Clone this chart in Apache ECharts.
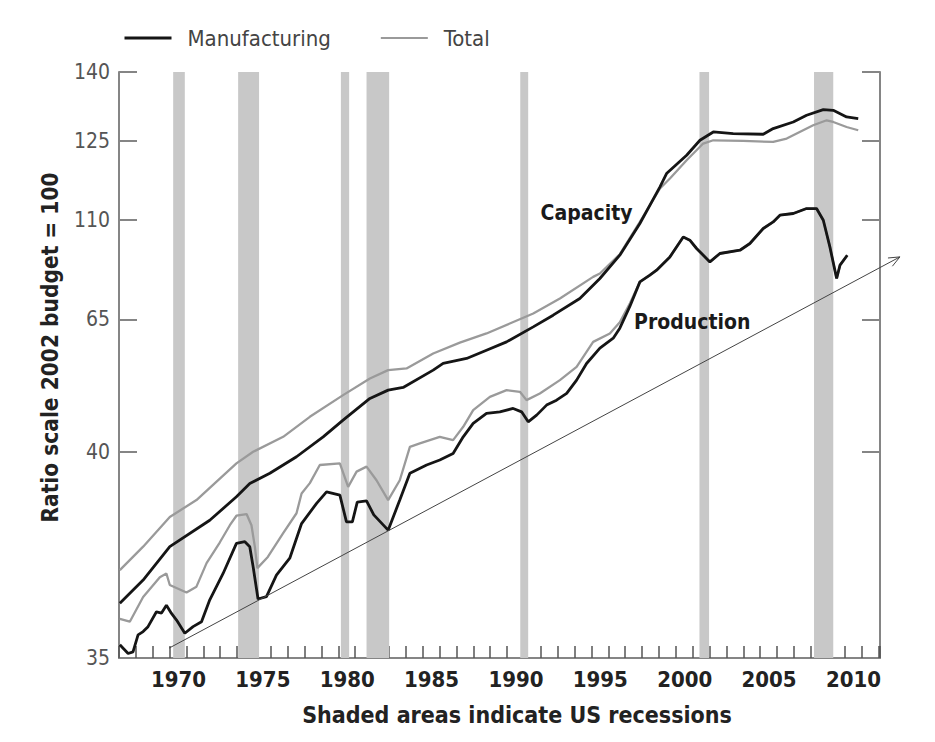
<!DOCTYPE html>
<html>
<head>
<meta charset="utf-8">
<script src="https://cdn.jsdelivr.net/npm/echarts@6/dist/echarts.min.js"></script>
<style>
  html, body { margin: 0; padding: 0; background: #fff; }
  #chart { width: 935px; height: 742px; }
</style>
</head>
<body>
<div id="chart"></div>
<script>
// ---------- data (values on the chart's "ratio scale", 2002 budget = 100) ----------
const yTickLabels = [35, 40, 65, 110, 125, 140];
const xTickLabels = [1970, 1975, 1980, 1985, 1990, 1995, 2000, 2005, 2010];

const recessions = [
  [1969.21, 1969.90], [1973.06, 1974.30], [1979.15, 1979.64], [1980.67, 1982.01],
  [1989.78, 1990.25], [2000.40, 2000.97], [2007.19, 2008.33]
];

const mfgCapacity = [
  [1966.05,36.33],[1967.43,36.89],[1969.01,37.70],[1971.38,38.34],[1972.96,38.91],
  [1973.75,39.23],[1974.94,39.48],[1976.52,39.88],[1978.10,42.83],[1979.28,45.99],
  [1980.87,50.08],[1981.95,51.65],[1982.84,52.16],[1984.62,55.43],[1985.21,56.69],
  [1986.60,57.64],[1987.78,59.20],[1988.97,60.77],[1990.55,63.60],[1991.73,66.95],
  [1993.31,74.52],[1994.50,83.58],[1995.68,94.14],[1996.87,108.50],[1998.06,116.30],
  [1998.45,118.83],[1999.64,122.30],[2000.43,125.15],[2001.22,126.96],[2002.40,126.61],
  [2004.18,126.46],[2004.77,127.70],[2005.96,129.13],[2006.75,130.59],[2007.74,131.83],
  [2008.33,131.67],[2009.12,130.22],[2009.81,129.87]
];

const totalCapacity = [
  [1966.05,37.13],[1967.43,37.70],[1969.01,38.42],[1970.59,38.83],[1972.96,39.72],
  [1973.95,40.00],[1975.73,42.83],[1977.31,46.61],[1979.28,50.71],[1980.87,53.86],
  [1981.95,55.43],[1983.04,55.75],[1984.62,58.58],[1986.20,60.62],[1987.78,62.36],
  [1989.16,64.24],[1990.55,67.72],[1992.13,74.52],[1994.10,84.31],[1994.50,85.85],
  [1995.68,94.59],[1996.87,109.23],[1998.06,116.00],[1998.65,117.89],[1999.64,121.35],
  [2000.62,124.51],[2001.22,125.15],[2002.99,125.00],[2004.77,124.81],[2005.57,125.52],
  [2007.14,128.41],[2007.94,129.50],[2008.33,129.13],[2009.12,128.04],[2009.81,127.33]
];

const mfgProduction = [
  [1966.05,35.32],[1966.54,35.11],[1966.83,35.15],[1967.13,35.56],[1967.43,35.64],
  [1967.72,35.76],[1968.22,36.12],[1968.52,36.09],[1968.81,36.28],[1969.11,36.08],
  [1969.41,35.92],[1969.90,35.60],[1970.39,35.76],[1970.89,35.88],[1971.38,36.41],
  [1972.17,37.05],[1972.96,37.78],[1973.46,37.82],[1973.75,37.70],[1973.95,37.21],
  [1974.24,36.43],[1974.74,36.49],[1975.33,37.01],[1976.12,37.42],[1976.82,38.26],
  [1977.71,38.75],[1978.30,39.03],[1979.09,38.95],[1979.48,38.30],[1979.83,38.30],
  [1980.12,38.78],[1980.67,38.81],[1981.10,38.47],[1981.95,38.10],[1982.64,38.83],
  [1983.24,39.48],[1984.23,39.68],[1985.01,39.80],[1985.80,39.96],[1986.40,42.83],
  [1986.99,45.36],[1987.78,47.25],[1988.57,47.55],[1989.36,48.19],[1989.86,47.55],
  [1990.25,45.66],[1990.75,46.93],[1991.34,48.82],[1991.93,49.76],[1992.53,51.03],
  [1993.12,53.54],[1993.71,56.69],[1994.50,59.58],[1995.29,61.47],[1995.68,63.36],
  [1996.28,71.03],[1996.87,82.04],[1997.46,85.08],[1997.86,87.34],[1998.65,93.37],
  [1999.44,102.43],[1999.83,100.94],[2000.23,97.18],[2001.02,91.10],[2001.61,94.91],
  [2002.80,96.40],[2003.39,99.44],[2004.18,106.24],[2004.77,109.23],[2005.17,110.95],
  [2005.96,111.27],[2006.75,112.21],[2007.34,112.21],[2007.74,110.00],[2008.13,97.90],
  [2008.53,83.58],[2008.73,89.61],[2009.16,94.14]
];

const totalProduction = [
  [1966.05,35.95],[1966.64,35.88],[1967.43,36.48],[1968.42,36.96],[1968.81,37.05],
  [1969.01,36.77],[1970.00,36.59],[1970.59,36.73],[1971.19,37.30],[1971.97,37.80],
  [1972.57,38.22],[1972.96,38.45],[1973.56,38.49],[1973.85,38.22],[1974.05,37.70],
  [1974.20,37.18],[1974.82,37.45],[1975.73,38.03],[1976.52,38.51],[1976.82,38.99],
  [1977.31,39.24],[1977.90,39.68],[1979.09,39.72],[1979.58,39.15],[1980.08,39.52],
  [1980.67,39.64],[1981.26,39.31],[1981.95,38.83],[1982.64,39.31],[1983.24,40.94],
  [1983.83,41.59],[1985.01,42.83],[1985.80,42.21],[1986.40,44.72],[1986.99,47.87],
  [1987.98,50.39],[1988.97,51.65],[1989.76,51.33],[1990.15,49.76],[1990.94,51.03],
  [1992.13,53.54],[1993.12,56.05],[1994.10,60.77],[1995.09,62.36],[1995.68,64.49],
  [1996.28,72.39],[1996.87,82.04],[1997.46,85.08],[1997.86,87.34],[1998.65,93.37],
  [1999.44,102.43],[1999.83,100.94],[2000.23,97.18],[2001.02,91.10],[2001.61,94.91],
  [2002.80,96.40],[2003.39,99.44],[2004.18,106.24],[2004.77,109.23],[2005.17,110.95],
  [2005.96,111.27],[2006.75,112.21],[2007.34,112.21],[2007.74,110.00],[2008.13,97.90],
  [2008.53,83.58],[2008.73,89.61],[2009.16,94.14]
];

const trendLine = [[1968.97, 35.24], [2012.28, 93.37]];

const annotations = [
  { text: 'Capacity',   year: 1993.71, value: 111.3 },
  { text: 'Production', year: 1999.97, value: 64.49 }
];

// ---------- the chart's (uneven) vertical scale ----------
const yScaleStops = [0, 0.35187, 0.57769, 0.74706, 0.88231, 1];
function toAxis(v) {
  let i = 0;
  while (i < yTickLabels.length - 2 && v > yTickLabels[i + 1]) i++;
  const t0 = yTickLabels[i], t1 = yTickLabels[i + 1];
  const p0 = yScaleStops[i], p1 = yScaleStops[i + 1];
  return p0 + (v - t0) / (t1 - t0) * (p1 - p0);
}
function fromAxis(p) {
  let best = 0;
  yScaleStops.forEach((s, i) => { if (Math.abs(s - p) < Math.abs(yScaleStops[best] - p)) best = i; });
  return yTickLabels[best];
}
const pts = arr => arr.map(d => [d[0], toAxis(d[1])]);

const FONT = "'DejaVu Sans Condensed', 'Liberation Sans Narrow', sans-serif";
const AXIS_GREY = '#858585';
const BLACK = '#151515';
const GREY = '#9a9a9a';

const chart = echarts.init(document.getElementById('chart'), null, { renderer: 'svg' });

chart.setOption({
  animation: false,
  backgroundColor: '#ffffff',
  textStyle: { fontFamily: FONT },
  grid: { left: 119, right: 55, top: 72, bottom: 84 },
  legend: {
    data: [
      { name: 'Manufacturing', lineStyle: { width: 3, color: BLACK } },
      { name: 'Total', lineStyle: { width: 2, color: GREY } }
    ],
    left: 118, top: 22,
    itemWidth: 47, itemHeight: 14, itemGap: 49,
    itemStyle: { opacity: 0 },
    textStyle: { fontFamily: FONT, fontSize: 22, color: '#444', padding: [0, 0, 0, 11] },
    selectedMode: false
  },
  xAxis: {
    type: 'value', min: 1966, max: 2011.1, interval: 1,
    axisLine: { show: true, lineStyle: { color: AXIS_GREY, width: 2 } },
    axisTick: { show: true, inside: true, length: 12, lineStyle: { color: '#555', width: 1.5 } },
    splitLine: { show: false },
    axisLabel: {
      margin: 10, fontFamily: FONT, fontSize: 22, fontWeight: 'bold', color: '#222',
      padding: [0, 16, 0, 0],
      showMinLabel: true, showMaxLabel: true,
      formatter: v => (xTickLabels.indexOf(Math.round(v * 1000) / 1000) >= 0 ? String(v) : '')
    },
    name: 'Shaded areas indicate US recessions',
    nameLocation: 'middle', nameGap: 45,
    nameTextStyle: { fontFamily: FONT, fontSize: 23, fontWeight: 'bold', color: '#222', padding: [0, 0, 0, 35] }
  },
  yAxis: [{
    type: 'value', min: 0, max: 1, position: 'left',
    axisLine: { show: true, lineStyle: { color: AXIS_GREY, width: 2 } },
    axisTick: { show: true, inside: true, length: 18, customValues: yScaleStops, lineStyle: { color: AXIS_GREY, width: 2 } },
    splitLine: { show: false },
    axisLabel: {
      customValues: yScaleStops, margin: 9,
      fontFamily: FONT, fontSize: 21, color: '#555',
      formatter: v => String(fromAxis(v))
    },
    name: 'Ratio scale 2002 budget = 100',
    nameLocation: 'middle', nameGap: 58,
    nameTextStyle: { fontFamily: FONT, fontSize: 22.5, fontWeight: 'bold', color: '#222', padding: [0, 0, 0, 35] }
  }, {
    type: 'value', min: 0, max: 1, position: 'right',
    axisLine: { show: true, lineStyle: { color: AXIS_GREY, width: 2 } },
    axisTick: { show: true, inside: true, length: 18, customValues: yScaleStops, lineStyle: { color: AXIS_GREY, width: 2 } },
    splitLine: { show: false },
    axisLabel: { show: false }
  }],
  series: [
    {
      name: 'recessions', type: 'line', data: [], silent: true,
      markArea: {
        silent: true,
        itemStyle: { color: '#c8c8c8', opacity: 1 },
        data: recessions.map(r => [{ xAxis: r[0] }, { xAxis: r[1] }])
      }
    },
    {
      name: 'Total', type: 'line', data: pts(totalCapacity), symbol: 'none', silent: true,
      lineStyle: { color: GREY, width: 2.3 }, itemStyle: { color: GREY }
    },
    {
      name: 'Total', type: 'line', data: pts(totalProduction), symbol: 'none', silent: true,
      lineStyle: { color: GREY, width: 2.3 }, itemStyle: { color: GREY }
    },
    {
      name: 'Manufacturing', type: 'line', data: pts(mfgCapacity), symbol: 'none', silent: true,
      lineStyle: { color: BLACK, width: 2.8 }, itemStyle: { color: BLACK },
      markPoint: {
        silent: true, symbol: 'circle', symbolSize: 1, itemStyle: { color: 'rgba(0,0,0,0)' },
        label: { show: true, position: 'inside', fontFamily: FONT, fontSize: 21, fontWeight: 'bold', color: '#1a1a1a',
                 formatter: p => p.name },
        data: [{ name: annotations[0].text, coord: [annotations[0].year, toAxis(annotations[0].value)] }]
      }
    },
    {
      name: 'Manufacturing', type: 'line', data: pts(mfgProduction), symbol: 'none', silent: true,
      lineStyle: { color: BLACK, width: 2.8 }, itemStyle: { color: BLACK },
      markPoint: {
        silent: true, symbol: 'circle', symbolSize: 1, itemStyle: { color: 'rgba(0,0,0,0)' },
        label: { show: true, position: 'inside', fontFamily: FONT, fontSize: 21, fontWeight: 'bold', color: '#1a1a1a',
                 formatter: p => p.name },
        data: [{ name: annotations[1].text, coord: [annotations[1].year, toAxis(annotations[1].value)] }]
      }
    }
  ]
});

// trend arrow (runs past the plot edge), placed with the chart's own scales
(function () {
  const a = chart.convertToPixel({ xAxisIndex: 0, yAxisIndex: 0 }, [trendLine[0][0], toAxis(trendLine[0][1])]);
  const b = chart.convertToPixel({ xAxisIndex: 0, yAxisIndex: 0 }, [trendLine[1][0], toAxis(trendLine[1][1])]);
  const ang = Math.atan2(b[1] - a[1], b[0] - a[0]);
  const len = 12, spread = 0.4;
  const p1 = [b[0] - len * Math.cos(ang - spread), b[1] - len * Math.sin(ang - spread)];
  const p2 = [b[0] - len * Math.cos(ang + spread), b[1] - len * Math.sin(ang + spread)];
  chart.setOption({
    graphic: [
      {
        type: 'line', silent: true, z: 10,
        shape: { x1: a[0], y1: a[1], x2: b[0], y2: b[1] },
        style: { stroke: '#444', lineWidth: 1 }
      },
      {
        type: 'polyline', silent: true, z: 10,
        shape: { points: [p1, b, p2] },
        style: { stroke: '#444', lineWidth: 1, fill: null }
      }
    ]
  });
})();
</script>
</body>
</html>
